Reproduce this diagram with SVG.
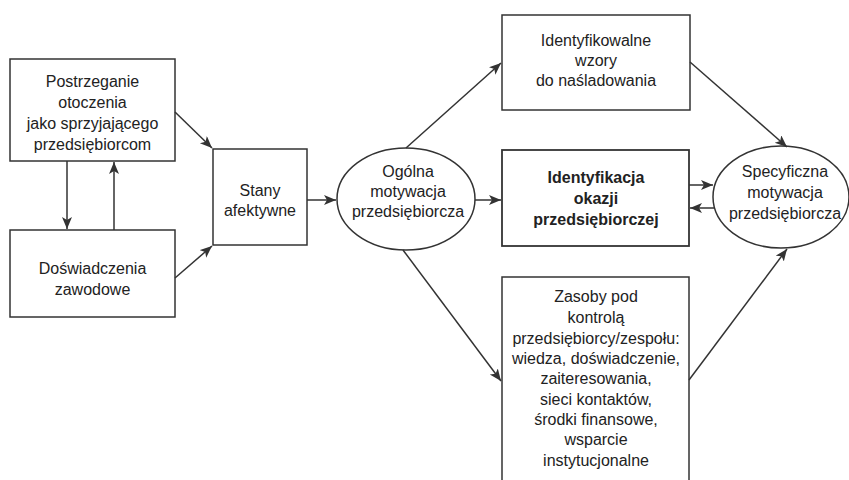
<svg xmlns="http://www.w3.org/2000/svg" width="849" height="480" viewBox="0 0 849 480">
<style>
.box{fill:#fff;stroke:#333;stroke-width:1.5}
.bold-box{fill:#fff;stroke:#333;stroke-width:1.8}
.conn{fill:none;stroke:#333;stroke-width:1.5}
text{font-family:"Liberation Sans",Arial,sans-serif;font-size:16px;fill:#222;text-anchor:middle}
.b{font-weight:bold}
</style>
<defs>
<marker id="ah" markerUnits="userSpaceOnUse" markerWidth="14" markerHeight="12" refX="12" refY="5" orient="auto">
<path d="M0,0 L12,5 L0,10 L3,5 Z" fill="#333"/>
</marker>
</defs>
<g id="n-postrzeganie">
<rect class="box" x="10" y="59" width="165" height="102"/>
<text x="92.5" y="87">Postrzeganie</text>
<text x="92.5" y="108">otoczenia</text>
<text x="92.5" y="129">jako sprzyjającego</text>
<text x="92.5" y="150">przedsiębiorcom</text>
</g>
<g id="n-doswiadczenia">
<rect class="box" x="10" y="230" width="165" height="87"/>
<text x="92.5" y="274">Doświadczenia</text>
<text x="92.5" y="295">zawodowe</text>
</g>
<g id="n-stany">
<rect class="box" x="213" y="149" width="94" height="96"/>
<text x="260" y="196">Stany</text>
<text x="260" y="216">afektywne</text>
</g>
<g id="n-ogolna">
<ellipse class="box" cx="406" cy="199" rx="69" ry="51"/>
<text x="408" y="177">Ogólna</text>
<text x="408" y="197">motywacja</text>
<text x="408" y="217">przedsiębiorcza</text>
</g>
<g id="n-wzory">
<rect class="box" x="502" y="15" width="188" height="95"/>
<text x="596" y="46">Identyfikowalne</text>
<text x="596" y="66">wzory</text>
<text x="596" y="86">do naśladowania</text>
</g>
<g id="n-identyfikacja">
<rect class="bold-box" x="502" y="150" width="187" height="96"/>
<text class="b" x="596" y="183">Identyfikacja</text>
<text class="b" x="596" y="204">okazji</text>
<text class="b" x="596" y="225">przedsiębiorczej</text>
</g>
<g id="n-zasoby">
<rect class="box" x="502" y="277" width="187" height="210"/>
<text x="596" y="302">Zasoby pod</text>
<text x="596" y="323">kontrolą</text>
<text x="596" y="344">przedsiębiorcy/zespołu:</text>
<text x="596" y="364">wiedza, doświadczenie,</text>
<text x="596" y="384">zaiteresowania,</text>
<text x="596" y="405">sieci kontaktów,</text>
<text x="596" y="425">środki finansowe,</text>
<text x="596" y="445">wsparcie</text>
<text x="596" y="466">instytucjonalne</text>
</g>
<g id="n-specyficzna">
<ellipse class="box" cx="781" cy="197" rx="68" ry="51"/>
<text x="785" y="177">Specyficzna</text>
<text x="785" y="198">motywacja</text>
<text x="785" y="219">przedsiębiorcza</text>
</g>
<g id="connectors">
<line class="conn" x1="67" y1="161" x2="67" y2="229" marker-end="url(#ah)"/>
<line class="conn" x1="114" y1="230" x2="114" y2="162" marker-end="url(#ah)"/>
<line class="conn" x1="175" y1="112" x2="212" y2="148" marker-end="url(#ah)"/>
<line class="conn" x1="175" y1="278" x2="212" y2="246" marker-end="url(#ah)"/>
<line class="conn" x1="307" y1="200" x2="336" y2="200" marker-end="url(#ah)"/>
<line class="conn" x1="475" y1="200" x2="501" y2="200" marker-end="url(#ah)"/>
<line class="conn" x1="406" y1="148" x2="501" y2="63" marker-end="url(#ah)"/>
<line class="conn" x1="403" y1="250" x2="501" y2="381" marker-end="url(#ah)"/>
<line class="conn" x1="690" y1="62" x2="787" y2="147" marker-end="url(#ah)"/>
<line class="conn" x1="689" y1="185" x2="713" y2="185" marker-end="url(#ah)"/>
<line class="conn" x1="714" y1="208" x2="690" y2="208" marker-end="url(#ah)"/>
<line class="conn" x1="689" y1="380" x2="787" y2="249" marker-end="url(#ah)"/>
</g>
</svg>
